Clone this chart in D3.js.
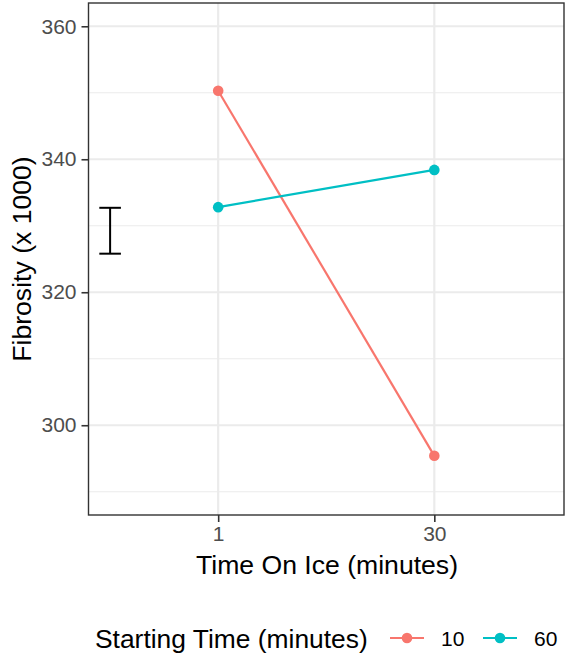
<!DOCTYPE html>
<html>
<head>
<meta charset="utf-8">
<script src="https://cdn.jsdelivr.net/npm/d3@7"></script>
<style>
  html, body { margin: 0; padding: 0; background: #fff; }
  svg { display: block; font-family: "Liberation Sans", Arial, sans-serif; }
</style>
</head>
<body>
<svg id="chart" width="567" height="658"></svg>
<script>
// ---- data ----
const timeOnIce = ["1", "30"];
const startingTimes = ["10", "60"];
const fibrosity10 = [350.3, 295.4];
const fibrosity60 = [332.8, 338.4];
const seriesColors = ["#F8766D", "#00BFC4"];
const yMajorTicks = [300, 320, 340, 360];
const yMinorTicks = [290, 310, 330, 350];
const errorBarLow = [325.8];
const errorBarHigh = [332.7];
const yLimits = [290, 360];

// ---- layout ----
const svg = d3.select("#chart");
const panel = { left: 88.5, right: 564, top: 3, bottom: 515 };

const span = yLimits[1] - yLimits[0];
const y = d3.scaleLinear()
  .domain([yLimits[0] - 0.05 * span, yLimits[1] + 0.05 * span])
  .range([panel.bottom, panel.top]);

// discrete x positions 1..n with 0.6 expansion
const xPos = d3.scaleLinear()
  .domain([0.4, timeOnIce.length + 0.6])
  .range([panel.left, panel.right]);
const x = d => xPos(timeOnIce.indexOf(d) + 1);

const g = svg.append("g");

g.append("rect")
  .attr("x", panel.left).attr("y", panel.top)
  .attr("width", panel.right - panel.left).attr("height", panel.bottom - panel.top)
  .attr("fill", "#fff");

// minor grid
g.selectAll(".ymin").data(yMinorTicks).enter().append("line")
  .attr("x1", panel.left).attr("x2", panel.right)
  .attr("y1", d => y(d)).attr("y2", d => y(d))
  .attr("stroke", "#EBEBEB").attr("stroke-width", 1.2);
// major grid
g.selectAll(".ymaj").data(yMajorTicks).enter().append("line")
  .attr("x1", panel.left).attr("x2", panel.right)
  .attr("y1", d => y(d)).attr("y2", d => y(d))
  .attr("stroke", "#EBEBEB").attr("stroke-width", 2.2);
g.selectAll(".xmaj").data(timeOnIce).enter().append("line")
  .attr("x1", d => x(d)).attr("x2", d => x(d))
  .attr("y1", panel.top).attr("y2", panel.bottom)
  .attr("stroke", "#EBEBEB").attr("stroke-width", 2.2);

// error bar at x = 0.5
const ebX = xPos(0.5), ebHalf = (xPos(0.55) - xPos(0.45)) / 2;
errorBarLow.forEach((lo, i) => {
  const hi = errorBarHigh[i];
  g.append("line").attr("x1", ebX).attr("x2", ebX).attr("y1", y(lo)).attr("y2", y(hi))
    .attr("stroke", "#000").attr("stroke-width", 2);
  [lo, hi].forEach(v => {
    g.append("line").attr("x1", ebX - ebHalf).attr("x2", ebX + ebHalf)
      .attr("y1", y(v)).attr("y2", y(v)).attr("stroke", "#000").attr("stroke-width", 2);
  });
});

// series
const series = [fibrosity10, fibrosity60];
const line = d3.line().x((d, i) => x(timeOnIce[i])).y(d => y(d));
series.forEach((vals, si) => {
  g.append("path").datum(vals)
    .attr("d", line).attr("fill", "none")
    .attr("stroke", seriesColors[si]).attr("stroke-width", 2.2);
  g.selectAll(".pt" + si).data(vals).enter().append("circle")
    .attr("cx", (d, i) => x(timeOnIce[i])).attr("cy", d => y(d))
    .attr("r", 5.3).attr("fill", seriesColors[si]);
});

// panel border
g.append("rect")
  .attr("x", panel.left).attr("y", panel.top)
  .attr("width", panel.right - panel.left).attr("height", panel.bottom - panel.top)
  .attr("fill", "none").attr("stroke", "#333333").attr("stroke-width", 1.4);

// y axis
const yAxis = d3.axisLeft(y).tickValues(yMajorTicks).tickSize(7).tickPadding(5).tickFormat(d3.format("d"));
const ya = svg.append("g").attr("transform", `translate(${panel.left},0)`).call(yAxis);
ya.select(".domain").remove();
ya.selectAll(".tick line").attr("stroke", "#333333").attr("stroke-width", 1.6);
ya.selectAll(".tick text").attr("fill", "#4D4D4D").style("font-size", "21px")
  .style("font-family", "'Liberation Sans', Arial, sans-serif");

// x axis
const xBand = d3.scalePoint().domain(timeOnIce).range([x(timeOnIce[0]), x(timeOnIce[timeOnIce.length - 1])]);
const xAxis = d3.axisBottom(xBand).tickSize(7).tickPadding(4);
const xa = svg.append("g").attr("transform", `translate(0,${panel.bottom})`).call(xAxis);
xa.select(".domain").remove();
xa.selectAll(".tick line").attr("stroke", "#333333").attr("stroke-width", 1.6);
xa.selectAll(".tick text").attr("fill", "#4D4D4D").style("font-size", "21px")
  .style("font-family", "'Liberation Sans', Arial, sans-serif");

// axis titles
svg.append("text")
  .attr("x", 327).attr("y", 574)
  .attr("text-anchor", "middle").attr("font-size", 26.6).attr("fill", "#000")
  .text("Time On Ice (minutes)");
svg.append("text")
  .attr("transform", `translate(31,${(panel.top + panel.bottom) / 2}) rotate(-90)`)
  .attr("text-anchor", "middle").attr("font-size", 26.6).attr("fill", "#000")
  .text("Fibrosity (x 1000)");

// legend
const legY = 638;
const leg = svg.append("g");
leg.append("text").attr("x", 95).attr("y", legY + 9.5)
  .attr("font-size", 26.4).attr("fill", "#000").text("Starting Time (minutes)");
const keyStarts = [390, 483];
startingTimes.forEach((s, i) => {
  const kx = keyStarts[i];
  leg.append("line").attr("x1", kx).attr("x2", kx + 34).attr("y1", legY).attr("y2", legY)
    .attr("stroke", seriesColors[i]).attr("stroke-width", 2.2);
  leg.append("circle").attr("cx", kx + 17).attr("cy", legY).attr("r", 5.3).attr("fill", seriesColors[i]);
  leg.append("text").attr("x", kx + 51).attr("y", legY + 7.5)
    .attr("font-size", 21).attr("fill", "#000").text(s);
});
</script>
</body>
</html>
